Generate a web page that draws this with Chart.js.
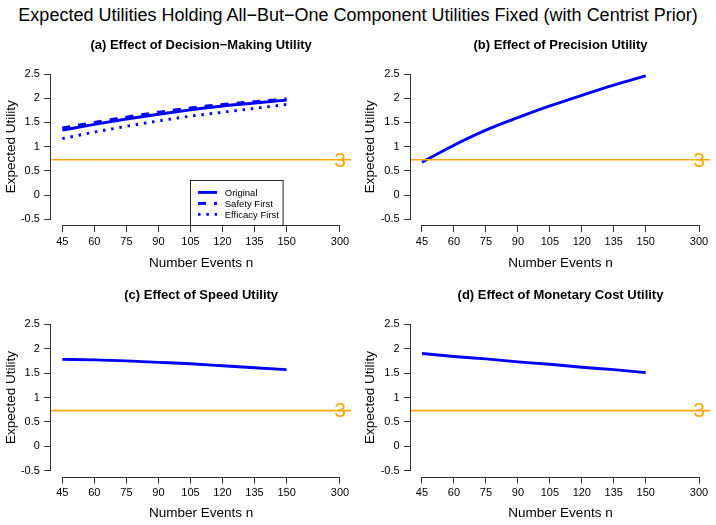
<!DOCTYPE html>
<html><head><meta charset="utf-8">
<script src="https://cdn.jsdelivr.net/npm/chart.js@4.4.1/dist/chart.umd.min.js"></script>
<style>
html,body{margin:0;padding:0;background:#fff;}
body{width:716px;height:525px;position:relative;overflow:hidden;font-family:"Liberation Sans",Arial,sans-serif;}
#main{position:absolute;left:0;top:5px;width:716px;text-align:center;font-size:18px;line-height:20px;color:#000;white-space:nowrap;}
canvas{position:absolute;}
</style></head><body>
<div id="main">Expected Utilities Holding All−But−One Component Utilities Fixed (with Centrist Prior)</div>
<canvas id="pa" width="358" height="250" style="left:0px;top:28px"></canvas>
<canvas id="pb" width="358" height="250" style="left:358px;top:28px"></canvas>
<canvas id="pc" width="358" height="247" style="left:0px;top:278px"></canvas>
<canvas id="pd" width="358" height="247" style="left:358px;top:278px"></canvas>
<script>
// ---- data ----
const nValues = [45, 60, 75, 90, 105, 120, 135, 150];
const xTickLabels = ['45', '60', '75', '90', '105', '120', '135', '150', '300'];
const yTickValues = [-0.5, 0, 0.5, 1, 1.5, 2, 2.5];
const decisionOriginal = [1.34, 1.46, 1.57, 1.67, 1.76, 1.84, 1.90, 1.96];
const decisionSafety   = [1.385, 1.50, 1.61, 1.71, 1.80, 1.87, 1.93, 1.985];
const decisionEfficacy = [1.165, 1.30, 1.42, 1.53, 1.63, 1.71, 1.79, 1.87];
const precisionUtility = [0.68, 1.03, 1.34, 1.60, 1.84, 2.06, 2.27, 2.46];
const speedUtility     = [1.78, 1.77, 1.75, 1.72, 1.69, 1.65, 1.61, 1.57];
const monetaryUtility  = [1.90, 1.84, 1.79, 1.73, 1.68, 1.62, 1.57, 1.51];
const fixedDesignUtility = 0.73;
const fixedDesignLabel = '3';
const legendLabels = ['Original', 'Safety First', 'Efficacy First'];
const panelTitles = ['(a) Effect of Decision−Making Utility', '(b) Effect of Precision Utility',
                     '(c) Effect of Speed Utility', '(d) Effect of Monetary Cost Utility'];
const xAxisTitle = 'Number Events n';
const yAxisTitle = 'Expected Utility';

// ---- layout / style ----
Chart.defaults.font.family = '"Liberation Sans", Arial, sans-serif';
const FONT = '"Liberation Sans", Arial, sans-serif';
const BLUE = '#0000FF';
const ORANGE = '#FFA500';
const breakPos = 175;             // axis position where the "300" tick sits
const xTickPositions = nValues.concat([breakPos]);
const X_MIN = 39.8, X_MAX = 180.2, Y_MIN = -0.62, Y_MAX = 2.62;

function pts(vals) { return nValues.map((n, i) => ({x: n, y: vals[i]})); }
function line(label, vals, dash) {
  return { label, data: pts(vals), borderColor: BLUE, backgroundColor: BLUE, borderWidth: 2.9,
           borderDash: dash, borderCapStyle: 'butt', pointRadius: 0, cubicInterpolationMode: 'monotone', fill: false };
}

const decor = {
  id: 'decor',
  afterDatasetsDraw(chart, args, o) {
    const {ctx, chartArea: a, scales: {x, y}} = chart;
    ctx.save();
    const yy = y.getPixelForValue(fixedDesignUtility);
    ctx.strokeStyle = ORANGE; ctx.lineWidth = 1.7;
    ctx.beginPath(); ctx.moveTo(a.left, yy); ctx.lineTo(a.right, yy); ctx.stroke();
    ctx.fillStyle = ORANGE; ctx.font = '21px ' + FONT; ctx.textAlign = 'center'; ctx.textBaseline = 'middle';
    ctx.fillText(fixedDesignLabel, x.getPixelForValue(breakPos), yy + 1);
    ctx.restore();
  },
  afterDraw(chart, args, o) {
    const {ctx, chartArea: a, scales: {x, y}} = chart;
    ctx.save();
    ctx.strokeStyle = '#333'; ctx.lineWidth = 1;
    const xb = Math.round(a.bottom) + 0.5, yl = Math.round(a.left) - 0.5;
    ctx.beginPath();
    ctx.moveTo(x.getPixelForValue(xTickPositions[0]), xb);
    ctx.lineTo(x.getPixelForValue(xTickPositions[xTickPositions.length - 1]), xb);
    ctx.moveTo(yl, y.getPixelForValue(yTickValues[0]));
    ctx.lineTo(yl, y.getPixelForValue(yTickValues[yTickValues.length - 1]));
    ctx.stroke();
    // panel title
    ctx.fillStyle = '#000'; ctx.font = 'bold 13px ' + FONT; ctx.textAlign = 'center'; ctx.textBaseline = 'middle';
    ctx.fillText(o.title, (a.left + a.right) / 2, a.top - 22.7);
    if (o.legend) {
      const bl = x.getPixelForValue(105), bb = a.bottom, w = 92.6, h = 45;
      const bt = bb - h;
      ctx.strokeStyle = '#222'; ctx.lineWidth = 1;
      ctx.strokeRect(Math.round(bl) + 0.5, Math.round(bt) + 0.5, w, h);
      ctx.font = '9.5px ' + FONT; ctx.textAlign = 'left'; ctx.textBaseline = 'middle';
      chart.data.datasets.forEach((ds, i) => {
        const ly = bt + 12.3 + 11 * i;
        ctx.save();
        ctx.strokeStyle = ds.borderColor; ctx.lineWidth = ds.borderWidth; ctx.lineCap = 'butt';
        ctx.setLineDash(ds.borderDash || []);
        ctx.beginPath(); ctx.moveTo(bl + 7.6, ly); ctx.lineTo(bl + 26.6, ly); ctx.stroke();
        ctx.restore();
        ctx.fillStyle = '#000';
        ctx.fillText(ds.label, bl + 34.3, ly + 0.5);
      });
    }
    ctx.restore();
  }
};

function makePanel(id, canvasRect, area, xTitleY, yTitleX, datasets, title, legend) {
  const padTop = area.t - canvasRect.t;
  const padRight = canvasRect.l + canvasRect.w - area.r;
  const yWidth = area.l - canvasRect.l;
  const xHeight = canvasRect.t + canvasRect.h - area.b;
  const titleLH = 13.5 * 1.2;
  const xTitlePadBottom = (canvasRect.t + canvasRect.h) - titleLH / 2 - xTitleY;
  const yTitlePadTop = yTitleX - canvasRect.l - titleLH / 2;
  new Chart(document.getElementById(id), {
    type: 'line',
    data: { datasets },
    options: {
      responsive: false, animation: false, devicePixelRatio: 1,
      layout: { padding: { left: 0, top: padTop, right: padRight, bottom: 0 } },
      plugins: { legend: { display: false }, tooltip: { enabled: false }, decor: { title, legend } },
      scales: {
        x: {
          type: 'linear', min: X_MIN, max: X_MAX,
          afterBuildTicks: s => { s.ticks = xTickPositions.map(v => ({value: v})); },
          afterFit: s => { s.height = xHeight; },
          ticks: { autoSkip: false, maxRotation: 0, padding: 3, color: '#000', font: { size: 11 },
                   callback: (v, i) => xTickLabels[i] },
          grid: { drawOnChartArea: false, drawTicks: true, tickLength: 7, color: '#333' },
          border: { display: false },
          title: { display: true, text: xAxisTitle, color: '#000', font: { size: 13.5 },
                   padding: { top: 0, bottom: xTitlePadBottom } }
        },
        y: {
          type: 'linear', min: Y_MIN, max: Y_MAX,
          afterBuildTicks: s => { s.ticks = yTickValues.map(v => ({value: v})); },
          afterFit: s => { s.width = yWidth; },
          ticks: { padding: 4.3, color: '#000', font: { size: 11 }, callback: v => String(v) },
          grid: { drawOnChartArea: false, drawTicks: true, tickLength: 7, color: '#333' },
          border: { display: false },
          title: { display: true, text: yAxisTitle, color: '#000', font: { size: 13.5 },
                   padding: { top: yTitlePadTop, bottom: 0 } }
        }
      }
    },
    plugins: [decor]
  });
}

makePanel('pa', {l: 0, t: 28, w: 358, h: 250}, {l: 51.2, t: 68.2, r: 351.1, b: 225.1}, 263.3, 11,
  [line(legendLabels[0], decisionOriginal, []), line(legendLabels[1], decisionSafety, [8, 8]),
   line(legendLabels[2], decisionEfficacy, [2.5, 5.8])], panelTitles[0], true);
makePanel('pb', {l: 358, t: 28, w: 358, h: 250}, {l: 410.9, t: 68.2, r: 710.1, b: 225.1}, 263.3, 370.5,
  [line('Precision', precisionUtility, [])], panelTitles[1], false);
makePanel('pc', {l: 0, t: 278, w: 358, h: 247}, {l: 51.2, t: 318.4, r: 351.1, b: 476.6}, 513.6, 11,
  [line('Speed', speedUtility, [])], panelTitles[2], false);
makePanel('pd', {l: 358, t: 278, w: 358, h: 247}, {l: 410.9, t: 318.4, r: 710.1, b: 476.6}, 513.6, 370.5,
  [line('Monetary Cost', monetaryUtility, [])], panelTitles[3], false);
</script>
</body></html>
